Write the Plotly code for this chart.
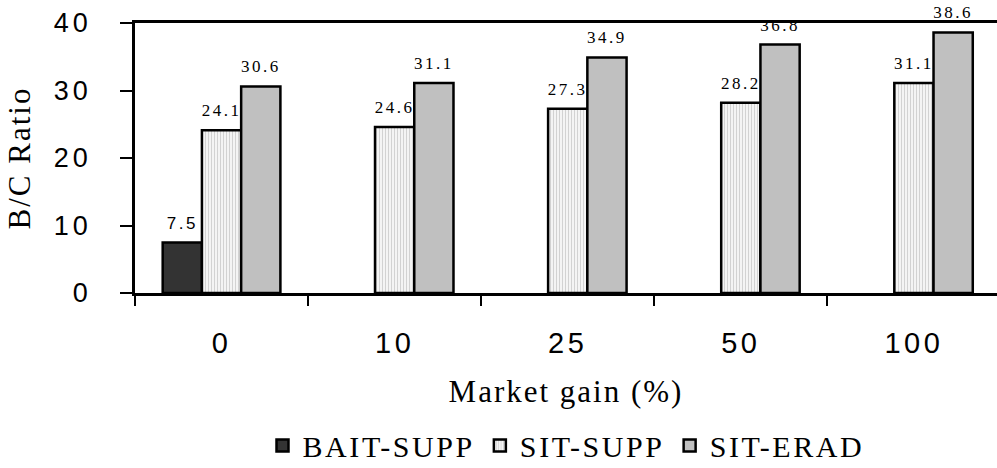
import plotly.graph_objects as go

# Market gain scenarios (%) and B/C ratios per strategy
categories = ["0", "10", "25", "50", "100"]
bait_supp = [7.5, None, None, None, None]
sit_supp = [24.1, 24.6, 27.3, 28.2, 31.1]
sit_erad = [30.6, 31.1, 34.9, 36.8, 38.6]
y_ticks = [0, 10, 20, 30, 40]

SERIF = "Liberation Serif, Times New Roman, serif"
SANS = "Liberation Sans, Arial, sans-serif"


def spaced(text, px):
    return f'<span style="letter-spacing:{px}px">{text}</span>'


def label_template(size, px):
    # value on the first line, a small blank line under it lifts the label off the bar
    return (f'<span style="font-size:{size}px;letter-spacing:{px}px">%{{y}}</span>'
            '<br>&nbsp;')


fig = go.Figure()

fig.add_trace(go.Bar(
    name=spaced("BAIT-SUPP", 2.6), x=categories, y=bait_supp,
    marker=dict(color="#333333", line=dict(color="black", width=2.5)),
    texttemplate=label_template(17, 2.5), textposition="outside",
    textfont=dict(family=SANS, size=7, color="black"),
    cliponaxis=False, constraintext="none",
))
fig.add_trace(go.Bar(
    name=spaced("SIT-SUPP", 2.6), x=categories, y=sit_supp,
    marker=dict(color="#f0f0f0", line=dict(color="black", width=2.5),
                pattern=dict(shape="|", fgcolor="#d2d2d2", bgcolor="#f4f4f4",
                             size=3, solidity=0.35)),
    texttemplate=label_template(17, 2.5), textposition="outside",
    textfont=dict(family=SERIF, size=7, color="black"),
    cliponaxis=False, constraintext="none",
))
fig.add_trace(go.Bar(
    name=spaced("SIT-ERAD", 2.6), x=categories, y=sit_erad,
    marker=dict(color="#c0c0c0", line=dict(color="black", width=2.5)),
    texttemplate=label_template(17, 2.5), textposition="outside",
    textfont=dict(family=SERIF, size=7, color="black"),
    cliponaxis=False, constraintext="none",
))

fig.update_layout(
    template="none",
    width=997, height=468,
    margin=dict(l=135, r=0, t=23, b=175, autoexpand=False),
    paper_bgcolor="white", plot_bgcolor="white",
    barmode="group", bargap=0.32, bargroupgap=0,
    showlegend=True,
    legend=dict(orientation="h", x=0.5, xanchor="center", y=-0.565, yanchor="middle",
                font=dict(family=SERIF, size=30, color="black"),
                itemwidth=30, traceorder="normal", bgcolor="rgba(0,0,0,0)"),
    xaxis=dict(
        type="category", range=[-0.5, 4.48],
        tickvals=categories, ticktext=[spaced(c, 3.5) for c in categories],
        tickson="boundaries", ticks="outside", ticklen=10, tickwidth=1.5,
        tickcolor="black", ticklabelstandoff=22,
        tickfont=dict(family=SANS, size=29, color="black"),
        showline=True, linecolor="black", linewidth=2.5, mirror=True,
        showgrid=False, zeroline=False,
        title=dict(text=spaced("Market gain (%)", 2), standoff=23,
                   font=dict(family=SERIF, size=31, color="black")),
    ),
    yaxis=dict(
        range=[0, 40], tickvals=y_ticks,
        ticktext=[spaced(str(v), 4) for v in y_ticks],
        ticks="outside", ticklen=12, tickwidth=1.5, tickcolor="black",
        ticklabelstandoff=23,
        tickfont=dict(family=SANS, size=27, color="black"),
        showline=True, linecolor="black", linewidth=2.5, mirror=False,
        showgrid=False, zeroline=False,
        title=dict(text=spaced("B/C Ratio", 2), standoff=14,
                   font=dict(family=SERIF, size=31, color="black")),
    ),
)

fig.write_html("out.html")
